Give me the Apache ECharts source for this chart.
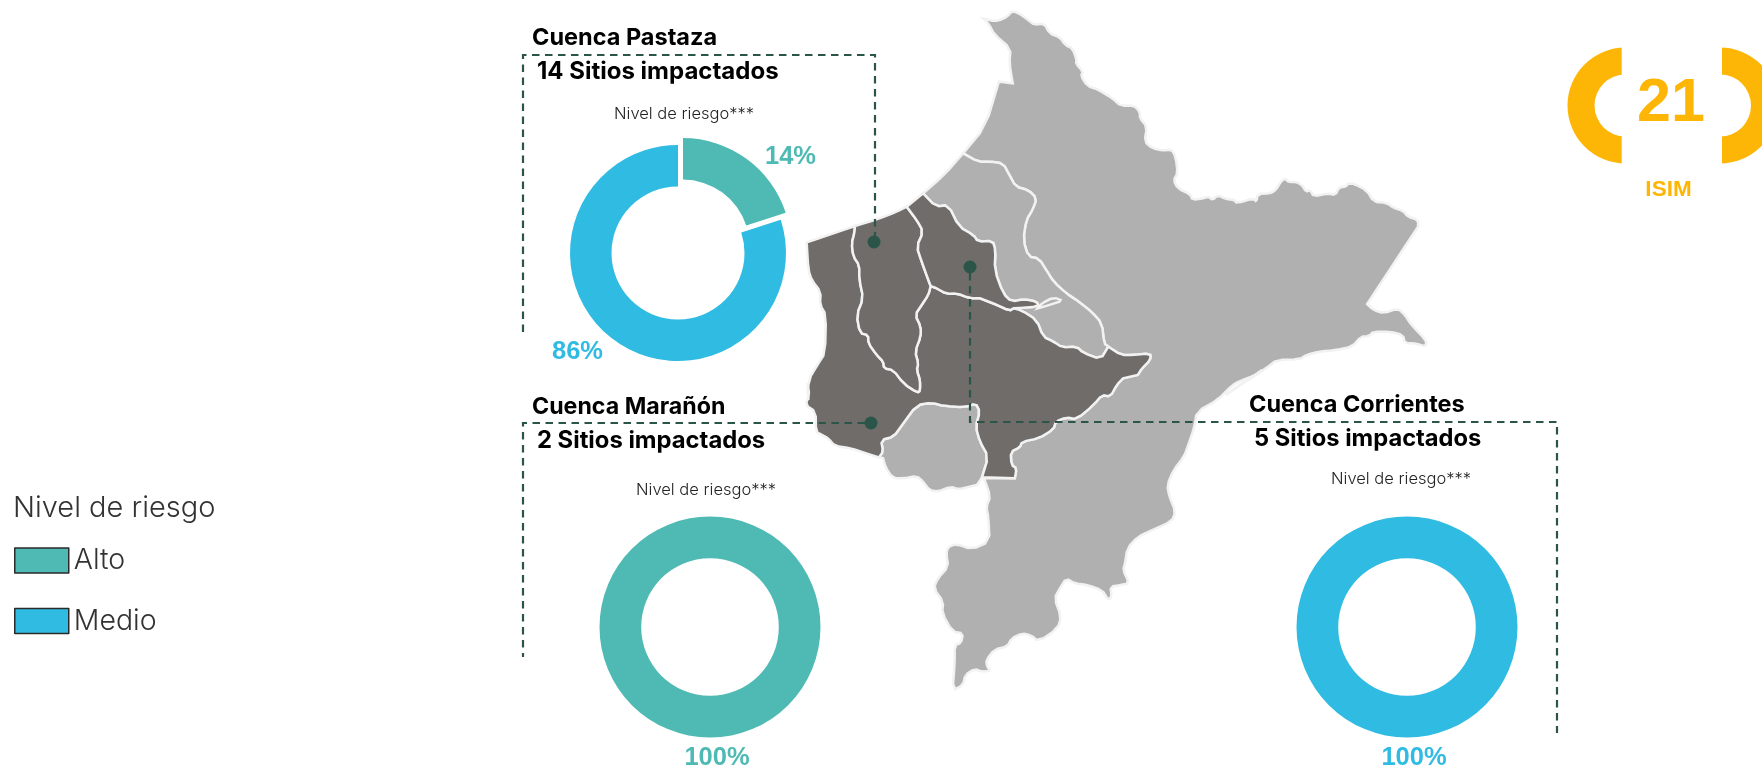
<!DOCTYPE html>
<html><head><meta charset="utf-8">
<script src="https://cdn.jsdelivr.net/npm/echarts@6/dist/echarts.min.js"></script>
<style>html,body{margin:0;padding:0;background:#fff}#c{width:1762px;height:768px}</style>
</head><body><div id="c"></div>
<script>
const TEAL='#4FBAB4', BLUE='#30BCE2', AMBER='#FDB606', DASH='#2B5548', LIGHT='#B0B0B0', DARK='#706C69', EDGE='#F2F2F2';
const riskLevels=['Alto','Medio'];
const pastazaArcShare=[20,80];
const pastazaLabels=['14%','86%'];
const maranonArcShare=[100];
const maranonLabel='100%';
const corrientesArcShare=[100];
const corrientesLabel='100%';
const basinTitles=['Cuenca Pastaza','Cuenca Marañón','Cuenca Corrientes'];
const basinSites=['14 Sitios impactados','2 Sitios impactados','5 Sitios impactados'];
const riskCaption='Nivel de riesgo***';

function soften(a){
  const out=[a[0]];
  for(let i=0;i<a.length-1;i++){
    const [x0,y0]=a[i],[x1,y1]=a[i+1];
    out.push([x0*.75+x1*.25,y0*.75+y1*.25],[x0*.25+x1*.75,y0*.25+y1*.75]);
  }
  out.push(a[a.length-1]);
  return out;
}
const P1=a=>soften(a.map(([x,y])=>[780+x/2.376,y/3]));
const P2=a=>soften(a.map(([x,y])=>[780+x/2.376,370+y/3]));
const P3=a=>soften(a.map(([x,y])=>[800+x/3,200+y/3]));
const rev=a=>a.slice().reverse();
const westOutline=[...P3([[165,78],[20,127]]),...P3([[20,127],[25,210],[35,240],[62,275],[60,315],[78,345],[75,460],[55,490],[25,540],[25,600]]),
  ...P2([[65,40],[70,75],[60,105],[85,125],[85,185],[100,195],[115,205],[130,228],[170,235],[205,250],[235,262]])];
const pocketTop=P2([[235,262],[245,245],[240,210],[270,200],[290,165],[325,105],[360,98],[390,108],[440,112],[465,100],[475,125],[465,170],[475,215],[495,260],[480,322]]);
const pocketBottom=P2([[468,345],[445,352],[425,358],[405,350],[375,365],[355,360],[340,335],[325,318],[295,325],[268,325],[250,290],[245,265]]);
const eastBorder=[...P2([[558,325],[562,295],[550,285],[548,245],[570,232],[575,215],[615,205],[650,178],[655,155],[680,142],[705,148],[745,105],[765,75],[785,80],[800,45],[815,25]]),
  ...P1([[850,1125],[860,1105],[880,1080],[880,1060],[840,1065],[810,1065],[780,1040]])];
const stripDark=P1([[780,1040],[762,1078],[720,1058],[705,1040],[670,1042],[650,1025],[625,1010],[610,960],[575,932],[555,925]]);
const river=[...P1([[555,925],[545,932],[510,912]]),...P3([[540,295],[510,295],[470,280],[440,282],[410,265],[392,258]])];
const west2East=P3([[392,258],[385,285],[365,315],[345,345],[362,380],[362,410],[345,455],[355,490],[350,510],[360,540],[360,572],[352,578]]);
const west2West=P3([[352,578],[310,550],[280,510],[252,505],[250,485],[230,465],[205,430],[205,405],[180,400],[170,345],[190,295],[178,240],[178,195],[160,170],[155,130],[163,100],[165,78]]);
const coastWest=P3([[165,78],[240,55],[290,35],[320,20]]);
const midWest=P3([[320,20],[350,60],[370,95],[350,140],[365,185],[385,240],[392,258]]);
const coastMid=[[800+320/3,200+20/3],[780+340/2.376,580/3]];
const stripNorth=P1([[340,580],[370,620],[400,615],[425,680],[460,705],[470,725],[505,722],[512,750],[510,810],[530,880],[550,905],[580,897],[610,905],[615,920],[555,925]]);
const coastStrip=P1([[435,460],[390,525],[340,580]]);
const stripEast=P1([[435,460],[470,485],[500,485],[530,490],[545,525],[560,560],[590,570],[610,595],[600,630],[585,660],[578,720],[590,770],[615,775],[635,815],[650,845],[680,880],[710,905],[740,935],[765,970],[770,1030],[780,1040]]);
const islet=P1([[612,925],[640,915],[672,902],[650,892],[622,910],[612,925]]);
const eastOuter=[...P1([[435,460],[488,380],[520,245]]),...P1([[520,245],[553,250]]),...P1([[553,250],[545,190],[548,145],[510,105],[495,70],[480,52],[500,62],[520,62],[540,50],[552,32],[570,42],[590,60],[605,75],[628,70],[640,100],[665,112],[678,135],[695,145],[705,180],[703,190],[720,215],[715,228],[730,258],[755,268],[790,295],[810,318],[840,316],[855,335],[855,355],[872,380],[866,425],[885,445],[910,452],[930,448],[940,470],[945,520],[935,540],[945,565],[975,583],[980,600],[1005,595],[1018,590],[1028,600],[1040,585],[1060,597],[1080,600],[1085,610],[1125,595],[1132,605],[1135,582],[1165,580],[1178,570],[1190,545],[1200,535],[1208,546],[1225,545],[1240,555],[1250,575],[1260,570],[1268,590],[1300,580],[1320,585],[1328,562],[1345,560],[1350,550],[1365,552],[1395,572],[1410,605],[1440,608],[1460,625],[1480,632],[1492,650],[1516,660],[1516,680]]),...P1([[1516,680],[1395,912]]),...P1([[1395,912],[1410,930],[1435,940],[1468,925],[1485,945],[1500,975],[1535,1020],[1535,1040],[1510,1030],[1485,1030],[1480,1005],[1450,995],[1410,995],[1400,1008],[1380,1010],[1360,1040],[1320,1050],[1280,1055],[1250,1065],[1235,1078],[1180,1080],[1160,1100],[1120,1135],[1085,1160],[1060,1185]]),
  ...P2([[1145,0],[1130,15],[1090,35],[1075,45],[1040,90],[990,125],[985,170],[970,225],[960,260],[935,300],[920,345],[925,380],[940,425],[930,455],[885,480],[850,500],[825,535],[820,580],[815,600],[830,640],[810,645],[785,650],[788,680],[780,690],[765,660],[730,645],[700,640],[680,625],[665,655],[652,685],[668,740],[660,775],[615,815],[595,795],[575,790],[550,805],[540,830],[510,838],[490,870],[492,890],[500,902],[480,905],[462,897],[440,915],[435,945],[410,962],[415,880],[415,825],[430,820],[435,790],[410,785],[385,730],[388,695],[365,655],[375,625],[400,590],[395,550],[400,530],[420,522],[455,538],[498,515],[495,440],[490,410],[500,380],[485,325]])];

const regionShapes={
  east:[...eastOuter,...eastBorder,...rev(stripEast)],
  strip:[...coastStrip,...stripNorth,...rev(stripDark),...rev(stripEast)],
  islet:islet,
  pocket:[...pocketTop,...pocketBottom],
  darkWest:[...westOutline,...pocketTop,...eastBorder,...stripDark,...river,...west2East,...west2West],
  west2:[...coastWest,...midWest,...west2East,...west2West],
  northMid:[...coastMid,...stripNorth,...river,...rev(midWest)]
};
const darkRegions=['darkWest','west2','northMid'];
const toGeo=p=>[p[0],768-p[1]];
const basinDots=[[874,242],[871,423],[970,267]];
const dashPaths=[
  [[523,332],[523,55],[875,55],[875,236]],
  [[865,423],[523,423],[523,657]],
  [[970,273],[970,422],[1557,422],[1557,733]]
];
const geoJson={type:'FeatureCollection',features:Object.keys(regionShapes).map(n=>{
  const ring=regionShapes[n].map(toGeo); ring.push(ring[0]);
  return {type:'Feature',properties:{name:n},geometry:{type:'Polygon',coordinates:[ring]}};
})};
echarts.registerMap('cuencas',geoJson);

const HEAD='Inter', BODY='Inter', NUM='"Liberation Sans"';
function txt(x,y,text,font,size,weight,fill,align){
  return {type:'text',x,y,z:50,silent:true,style:{text,fontFamily:font,fontSize:size,fontWeight:weight,fill,align:align||'left',verticalAlign:'middle'}};
}
function donut(center,values,names,colors,r,extra){
  return Object.assign({type:'pie',center,radius:r,startAngle:90,clockwise:true,silent:true,animation:false,
    label:{show:false},labelLine:{show:false},z:5,
    data:values.map((v,i)=>({name:names[i],value:v,itemStyle:{color:colors[i]}}))},extra||{});
}
const chart=echarts.init(document.getElementById('c'),null,{renderer:'canvas'});
chart.setOption({
  animation:false,backgroundColor:'#fff',
  legend:{left:14,top:546,padding:0,orient:'vertical',itemWidth:54,itemHeight:25,itemGap:31.6,selectedMode:false,icon:'rect',
    data:riskLevels,textStyle:{fontFamily:BODY,fontWeight:300,fontSize:28.5,color:'#333',padding:[5,0,0,0]},
    itemStyle:{borderColor:'#2a2a2a',borderWidth:1.5}},
  geo:{map:'cuencas',left:0,top:0,width:1762,height:768,aspectScale:1,boundingCoords:[[0,768],[1762,0]],roam:false,silent:true,z:1,
    label:{show:false},
    itemStyle:{areaColor:LIGHT,borderColor:EDGE,borderWidth:2.5},
    regions:darkRegions.map(name=>({name,itemStyle:{areaColor:DARK,borderColor:EDGE,borderWidth:2.5}}))},
  series:[
    {type:'lines',coordinateSystem:'geo',polyline:true,silent:true,z:3,
      lineStyle:{color:DASH,width:2.2,type:[7.5,5.5],opacity:1},
      data:dashPaths.map(p=>({coords:p.map(toGeo)}))},
    {type:'scatter',coordinateSystem:'geo',silent:true,z:4,symbolSize:13,itemStyle:{color:DASH,opacity:1},
      data:basinDots.map(toGeo)},
    donut([678,253],pastazaArcShare,riskLevels,[TEAL,BLUE],[66.5,108],{selectedMode:'single',selectedOffset:8.5,
      data:[{name:riskLevels[0],value:pastazaArcShare[0],selected:true,itemStyle:{color:TEAL}},
            {name:riskLevels[1],value:pastazaArcShare[1],itemStyle:{color:BLUE}}]}),
    donut([710,627],maranonArcShare,[riskLevels[0]],[TEAL],[68.8,110.5]),
    donut([1407,627],corrientesArcShare,[riskLevels[1]],[BLUE],[68.8,110.5])
  ],
  graphic:{elements:[
    txt(13,508,'Nivel de riesgo',BODY,29,300,'#333'),
    txt(532,38,basinTitles[0],HEAD,23.5,700,'#000'),
    txt(537,72,basinSites[0],HEAD,24,700,'#000'),
    txt(532,407,basinTitles[1],HEAD,23.2,700,'#000'),
    txt(537,441,basinSites[1],HEAD,23.8,700,'#000'),
    txt(1249,405,basinTitles[2],HEAD,23.5,700,'#000'),
    txt(1254,439,basinSites[2],HEAD,23.7,700,'#000'),
    txt(614,114,riskCaption,BODY,16.5,300,'#222'),
    txt(636,490,riskCaption,BODY,16.5,300,'#222'),
    txt(1331,479,riskCaption,BODY,16.5,300,'#222'),
    txt(765,157,pastazaLabels[0],NUM,25.5,700,TEAL),
    txt(552,352,pastazaLabels[1],NUM,25.5,700,BLUE),
    txt(717,758,maranonLabel,NUM,25.5,700,TEAL,'center'),
    txt(1414,758,corrientesLabel,NUM,25.5,700,BLUE,'center'),
    {type:'sector',z:40,silent:true,shape:{cx:1625.5,cy:105.5,r:58,r0:31,startAngle:Math.PI/2,endAngle:Math.PI*1.5,clockwise:true},style:{fill:AMBER}},
    {type:'rect',z:41,silent:true,shape:{x:1621.7,y:45,width:8,height:122},style:{fill:'#fff'}},
    {type:'sector',z:40,silent:true,shape:{cx:1720,cy:105.5,r:58,r0:31,startAngle:-Math.PI/2,endAngle:Math.PI/2,clockwise:true},style:{fill:AMBER}},
    {type:'rect',z:41,silent:true,shape:{x:1715,y:45,width:7,height:122},style:{fill:'#fff'}},
    txt(1671,104.5,'21',NUM,61,700,AMBER,'center'),
    txt(1668.5,189.5,'ISIM',NUM,22.5,700,AMBER,'center')
  ]}
});
</script></body></html>
